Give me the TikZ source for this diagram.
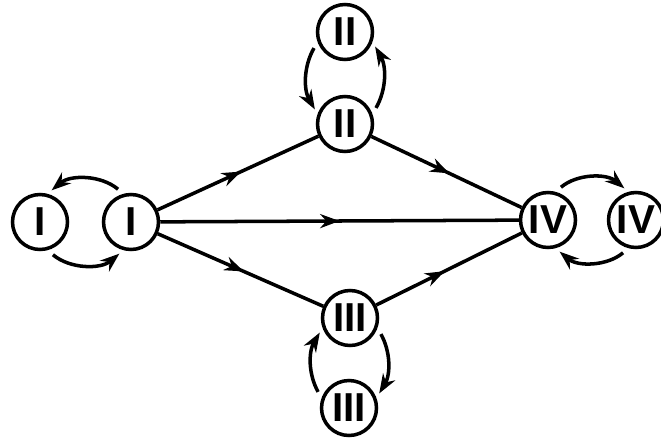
\documentclass[tikz,border=0pt]{standalone}
\usepackage{fontspec}
\setsansfont{Liberation Sans}
\usetikzlibrary{arrows.meta,decorations.markings}
\tikzset{
    species/.style={
        circle,
        draw,
        line width=2pt,
        minimum size=1.1cm,
        inner sep=0pt,
        font=\sffamily\bfseries\fontsize{23}{23}\selectfont
    },
    midarrow/.style={
        postaction={decorate},
        decoration={markings,
            mark=at position #1 with {\arrow{Stealth[length=11pt,width=8pt]}}}
    },
    exch/.style={
        -{Stealth[length=11pt,width=8pt]},
        line width=2pt,
        shorten <=4pt,
        shorten >=3pt
    }
}

\begin{document}
\begin{tikzpicture}[x=0.02cm,y=-0.02cm,line width=2pt]
\useasboundingbox (0,0) rectangle (661,446);
\node[species] (Ia) at (40,222) {I};
\node[species] (I) at (131,222) {I};
\node[species] (IIa) at (345,32) {II};
\node[species] (II) at (345,124) {II};
\node[species] (III) at (350,318) {III};
\node[species] (IIIa) at (349,408) {III};
\node[species] (IV) at (548,220) {IV};
\node[species] (IVa) at (636,220) {IV};
% main routes
\draw[midarrow=0.52] (I) -- (II);
\draw[midarrow=0.5] (I) -- (IV);
\draw[midarrow=0.52] (I) -- (III);
\draw[midarrow=0.52] (II) -- (IV);
\draw[midarrow=0.47] (III) -- (IV);
% exchange with second phase
\path[exch]
  (I.105) edge[bend right=40] (Ia.75)
  (Ia.-75) edge[bend right=40] (I.-105)
  (IIa.200) edge[bend right=30] (II.160)
  (II.20) edge[bend right=30] (IIa.-20)
  (IIIa.160) edge[bend left=30] (III.200)
  (III.-20) edge[bend left=30] (IIIa.20)
  (IV.75) edge[bend left=40] (IVa.105)
  (IVa.-105) edge[bend left=40] (IV.-75);
\end{tikzpicture}
\end{document}
